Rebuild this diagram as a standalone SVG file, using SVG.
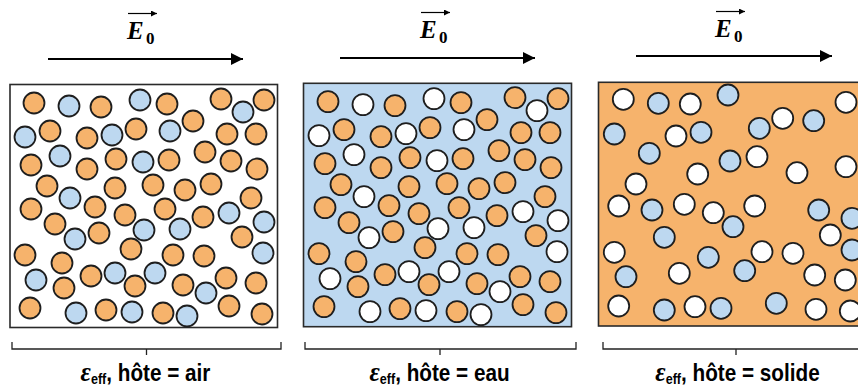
<svg xmlns="http://www.w3.org/2000/svg" xmlns:xlink="http://www.w3.org/1999/xlink" width="858" height="389" viewBox="0 0 858 389">
<style>
.dots{stroke:#1e1e1e;stroke-width:1.8}
.or{fill:#f6b36c}
.bl{fill:#bdd8f0}
.wh{fill:#ffffff}
.box{stroke:#2a2a2a;stroke-width:1.6}
.field{stroke:#000;stroke-width:1.8;fill:none}
.vec{stroke:#000;stroke-width:1.2;fill:none}
.E{font-family:"Liberation Serif",serif;font-weight:bold;font-style:italic;font-size:25px;fill:#000}
.Z{font-family:"Liberation Serif",serif;font-weight:bold;font-size:17px;fill:#000}
.br{stroke:#222;stroke-width:1.3;fill:none}
.lab{font-family:"Liberation Sans",Arial,sans-serif;font-weight:bold;font-size:23px;fill:#000}
.eps{font-family:"Liberation Serif",serif;font-style:italic;font-size:28px}
.sub{font-size:14px}
</style>
<defs>
<marker id="ah" markerUnits="userSpaceOnUse" markerWidth="14" markerHeight="12" refX="12" refY="6" orient="auto">
<path d="M0,0 L12,6 L0,12 z" fill="#000"/>
</marker>
<marker id="ah2" markerUnits="userSpaceOnUse" markerWidth="8" markerHeight="6" refX="6" refY="3" orient="auto">
<path d="M0,0 L6,3 L0,6 z" fill="#000"/>
</marker>
<g id="A">
<circle cx="34" cy="103" r="10.5"/><circle cx="101" cy="107" r="10.5"/><circle cx="50" cy="131" r="10.5"/><circle cx="87" cy="138" r="10.5"/>
<circle cx="136" cy="129" r="10.5"/><circle cx="31" cy="165" r="10.5"/><circle cx="87" cy="169" r="10.5"/><circle cx="116" cy="159" r="10.5"/>
<circle cx="47" cy="186" r="10.5"/><circle cx="115" cy="188" r="10.5"/><circle cx="167" cy="104" r="10.5"/><circle cx="221" cy="99" r="10.5"/>
<circle cx="264" cy="100" r="10.5"/><circle cx="193" cy="121" r="10.5"/><circle cx="227" cy="134" r="10.5"/><circle cx="256" cy="134" r="10.5"/>
<circle cx="205" cy="152" r="10.5"/><circle cx="169" cy="160" r="10.5"/><circle cx="231" cy="161" r="10.5"/><circle cx="257" cy="169" r="10.5"/>
<circle cx="153" cy="185" r="10.5"/><circle cx="185" cy="190" r="10.5"/><circle cx="211" cy="184" r="10.5"/><circle cx="251" cy="198" r="10.5"/>
<circle cx="31" cy="209" r="10.5"/><circle cx="95" cy="207" r="10.5"/><circle cx="125" cy="215" r="10.5"/><circle cx="55" cy="224" r="10.5"/>
<circle cx="99" cy="233" r="10.5"/><circle cx="25" cy="255" r="10.5"/><circle cx="62" cy="263" r="10.5"/><circle cx="131" cy="249" r="10.5"/>
<circle cx="91" cy="276" r="10.5"/><circle cx="64" cy="288" r="10.5"/><circle cx="135" cy="286" r="10.5"/><circle cx="30" cy="308" r="10.5"/>
<circle cx="106" cy="310" r="10.5"/><circle cx="165" cy="209" r="10.5"/><circle cx="203" cy="217" r="10.5"/><circle cx="242" cy="237" r="10.5"/>
<circle cx="173" cy="255" r="10.5"/><circle cx="204" cy="256" r="10.5"/><circle cx="183" cy="285" r="10.5"/><circle cx="226" cy="278" r="10.5"/>
<circle cx="256" cy="283" r="10.5"/><circle cx="229" cy="306" r="10.5"/><circle cx="163" cy="313" r="10.5"/><circle cx="262" cy="314" r="10.5"/>
</g>
<g id="B">
<circle cx="69" cy="106" r="10.5"/><circle cx="140" cy="100" r="10.5"/><circle cx="25" cy="137" r="10.5"/><circle cx="112" cy="135" r="10.5"/>
<circle cx="60" cy="156" r="10.5"/><circle cx="70" cy="198" r="10.5"/><circle cx="243" cy="112" r="10.5"/><circle cx="170" cy="131" r="10.5"/>
<circle cx="143" cy="162" r="10.5"/><circle cx="75" cy="239" r="10.5"/><circle cx="144" cy="230" r="10.5"/><circle cx="115" cy="273" r="10.5"/>
<circle cx="36" cy="280" r="10.5"/><circle cx="76" cy="313" r="10.5"/><circle cx="132" cy="312" r="10.5"/><circle cx="229" cy="213" r="10.5"/>
<circle cx="264" cy="222" r="10.5"/><circle cx="180" cy="229" r="10.5"/><circle cx="263" cy="253" r="10.5"/><circle cx="155" cy="273" r="10.5"/>
<circle cx="206" cy="293" r="10.5"/><circle cx="187" cy="316" r="10.5"/>
</g>
</defs>
<rect width="858" height="389" fill="#fff"/>

<g id="panel-air">
<rect class="box" x="10" y="84.5" width="267.5" height="243" fill="#fff"/>
<use href="#A" class="dots or"/>
<use href="#B" class="dots bl"/>
</g>

<g id="panel-eau">
<rect class="box" x="303.5" y="83.3" width="268" height="243.4" fill="#bdd8f0"/>
<use href="#A" class="dots or" transform="translate(294,-1.4)"/>
<use href="#B" class="dots wh" transform="translate(294,-1.4)"/>
</g>

<g id="panel-solide">
<rect class="box" x="598.5" y="82.3" width="268" height="243.7" fill="#f6b36c"/>
<g class="dots wh">
<circle cx="623.3" cy="99.3" r="10.5"/><circle cx="690.3" cy="104" r="10.5"/><circle cx="676" cy="136" r="10.5"/><circle cx="697.7" cy="174" r="10.5"/>
<circle cx="636" cy="184" r="10.5"/><circle cx="618.7" cy="206" r="10.5"/><circle cx="684.3" cy="204.3" r="10.5"/><circle cx="713.3" cy="212.7" r="10.5"/>
<circle cx="614.3" cy="252.3" r="10.5"/><circle cx="679.3" cy="273.3" r="10.5"/><circle cx="618.7" cy="306" r="10.5"/><circle cx="695" cy="306.7" r="10.5"/>
<circle cx="846" cy="102.3" r="10.5"/><circle cx="782.7" cy="118.3" r="10.5"/><circle cx="757" cy="156.7" r="10.5"/><circle cx="797" cy="172.7" r="10.5"/>
<circle cx="846" cy="166.7" r="10.5"/><circle cx="754.7" cy="206" r="10.5"/><circle cx="830.3" cy="235" r="10.5"/><circle cx="762" cy="251.7" r="10.5"/>
<circle cx="793" cy="253.3" r="10.5"/><circle cx="814.7" cy="275" r="10.5"/><circle cx="845.3" cy="280" r="10.5"/><circle cx="816" cy="309.3" r="10.5"/>
<circle cx="850.3" cy="311" r="10.5"/>
</g>
<g class="dots bl">
<circle cx="658.3" cy="103.3" r="10.5"/><circle cx="728" cy="95" r="10.5"/><circle cx="614.3" cy="134" r="10.5"/><circle cx="701" cy="132.3" r="10.5"/>
<circle cx="649.3" cy="153.3" r="10.5"/><circle cx="730" cy="161" r="10.5"/><circle cx="652" cy="210" r="10.5"/><circle cx="733" cy="226.7" r="10.5"/>
<circle cx="664.3" cy="237.3" r="10.5"/><circle cx="708.3" cy="257.3" r="10.5"/><circle cx="626" cy="276.7" r="10.5"/><circle cx="664.3" cy="310" r="10.5"/>
<circle cx="721" cy="308.3" r="10.5"/><circle cx="813.7" cy="120.7" r="10.5"/><circle cx="759.3" cy="128.3" r="10.5"/><circle cx="818.7" cy="210" r="10.5"/>
<circle cx="852" cy="218.3" r="10.5"/><circle cx="852" cy="250" r="10.5"/><circle cx="744.7" cy="270.7" r="10.5"/><circle cx="776.3" cy="303.3" r="10.5"/>
</g>
</g>

<g id="connectors">
<line class="field" x1="48" y1="59" x2="243" y2="59" marker-end="url(#ah)"/>
<line class="field" x1="340" y1="58" x2="535" y2="58" marker-end="url(#ah)"/>
<line class="field" x1="636" y1="56" x2="832" y2="56" marker-end="url(#ah)"/>
<line class="vec" x1="128" y1="13.5" x2="157" y2="13.5" marker-end="url(#ah2)"/>
<line class="vec" x1="421" y1="12.5" x2="450" y2="12.5" marker-end="url(#ah2)"/>
<line class="vec" x1="716" y1="11.5" x2="745" y2="11.5" marker-end="url(#ah2)"/>
<path class="br" d="M12,342 V349 H281 V342 M146.5,349 V355"/>
<path class="br" d="M305,342 V349 H576 V342 M440,349 V355"/>
<path class="br" d="M603,342 V349 H870 M736,349 V355"/>
</g>

<g id="field-labels">
<text class="E" x="127" y="39">E</text><text class="Z" x="146" y="44">0</text>
<text class="E" x="420" y="38">E</text><text class="Z" x="439" y="43">0</text>
<text class="E" x="715" y="37">E</text><text class="Z" x="734" y="42">0</text>
</g>

<g id="labels">
<text class="lab" transform="translate(145.5,381) scale(0.9,1)" text-anchor="middle"><tspan class="eps">ε</tspan><tspan class="sub" dy="3">eff</tspan><tspan dy="-3">, hôte = air</tspan></text>
<text class="lab" transform="translate(439.5,381) scale(0.9,1)" text-anchor="middle"><tspan class="eps">ε</tspan><tspan class="sub" dy="3">eff</tspan><tspan dy="-3">, hôte = eau</tspan></text>
<text class="lab" transform="translate(737.5,381) scale(0.9,1)" text-anchor="middle"><tspan class="eps">ε</tspan><tspan class="sub" dy="3">eff</tspan><tspan dy="-3">, hôte = solide</tspan></text>
</g>
</svg>
